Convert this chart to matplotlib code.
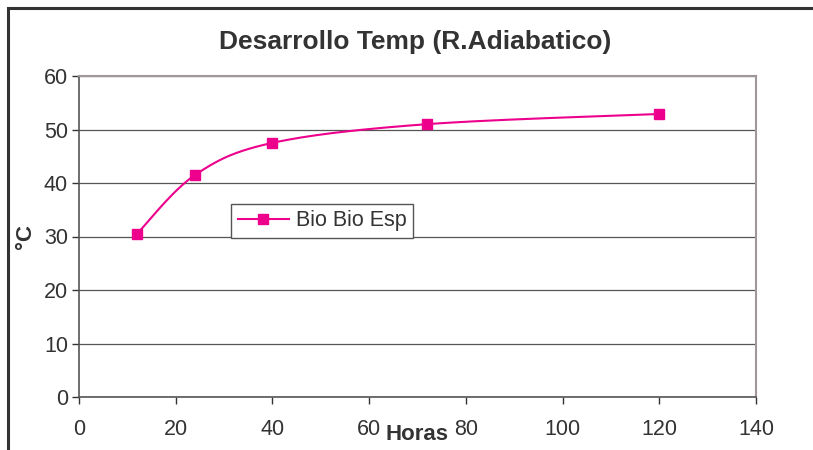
import numpy as np
import matplotlib
matplotlib.use("Agg")
import matplotlib.pyplot as plt
from matplotlib.patches import Rectangle

plt.rcParams['font.family'] = ['Liberation Sans', 'DejaVu Sans']

# data
horas = [12, 24, 40, 72, 120]
temp = [30.5, 41.5, 47.5, 51.0, 52.9]
serie = "Bio Bio Esp"
xticks = [0, 20, 40, 60, 80, 100, 120, 140]
yticks = [0, 10, 20, 30, 40, 50, 60]

color = '#EC008C'
txt = '#333333'


def excel_smooth(x, y, n=40):
    # bezier smoothing like the excel "smoothed line" option
    x = np.asarray(x, float)
    y = np.asarray(y, float)
    px, py = [], []
    for i in range(len(x) - 1):
        x0, y0 = (x[i - 1], y[i - 1]) if i > 0 else (x[i], y[i])
        x3, y3 = (x[i + 2], y[i + 2]) if i + 2 < len(x) else (x[i + 1], y[i + 1])
        c1x = x[i] + (x[i + 1] - x0) / 6
        c1y = y[i] + (y[i + 1] - y0) / 6
        c2x = x[i + 1] - (x3 - x[i]) / 6
        c2y = y[i + 1] - (y3 - y[i]) / 6
        t = np.linspace(0, 1, n)
        px.extend((1-t)**3*x[i] + 3*(1-t)**2*t*c1x + 3*(1-t)*t**2*c2x + t**3*x[i+1])
        py.extend((1-t)**3*y[i] + 3*(1-t)**2*t*c1y + 3*(1-t)*t**2*c2y + t**3*y[i+1])
    return px, py


fig = plt.figure(figsize=(8.13, 4.5), dpi=100)

# outer chart frame (cropped at right and bottom)
fig.add_artist(Rectangle((8/813, -0.1), 1.2, 1 - 8/450 + 0.1, transform=fig.transFigure,
                         fill=False, edgecolor='#333333', linewidth=2.2))

ax = fig.add_axes([79/813, 1 - 397/450, (756 - 79)/813, (397 - 76)/450])

sx, sy = excel_smooth(horas, temp)
ax.plot(sx, sy, color=color, linewidth=1.5, zorder=3)
ax.plot(horas, temp, linestyle='none', marker='s', markersize=7.5, color=color, zorder=4)

ax.set_xlim(0, 140)
ax.set_ylim(0, 60)
ax.set_xticks(xticks)
ax.set_yticks(yticks)
ax.tick_params(labelsize=15.5, colors=txt, length=5, width=1, direction='out')
ax.tick_params(axis='x', pad=11)
ax.tick_params(axis='y', pad=3)

ax.grid(axis='y', color='#555555', linewidth=0.9)
ax.set_axisbelow(True)
for s in ['top', 'right']:
    ax.spines[s].set_color('#a09898')
    ax.spines[s].set_linewidth(1.5)
for s in ['left', 'bottom']:
    ax.spines[s].set_color('#555555')
    ax.spines[s].set_linewidth(1.2)

fig.text(415/813, 1 - 42/450, 'Desarrollo Temp (R.Adiabatico)', ha='center', va='center',
         fontsize=19, fontweight='bold', color=txt)
fig.text(417/813, 1 - 434/450, 'Horas', ha='center', va='center',
         fontsize=16, fontweight='bold', color=txt)
fig.text(26/813, 1 - 237/450, '°C', ha='center', va='center', rotation=90,
         fontsize=16, fontweight='bold', color=txt)

leg = ax.legend([plt.Line2D([], [], color=color, marker='s', markersize=7.5, linewidth=1.5)],
                [serie], loc='center', bbox_to_anchor=(322/813, 1 - 221/450),
                bbox_transform=fig.transFigure, fontsize=15.5, frameon=True, fancybox=False,
                edgecolor='#555555', framealpha=1, handlelength=2.4, borderpad=0.3,
                handletextpad=0.3, borderaxespad=0)
leg.get_frame().set_linewidth(1.0)
for t in leg.get_texts():
    t.set_color(txt)

fig.savefig('out.png', dpi=100)
